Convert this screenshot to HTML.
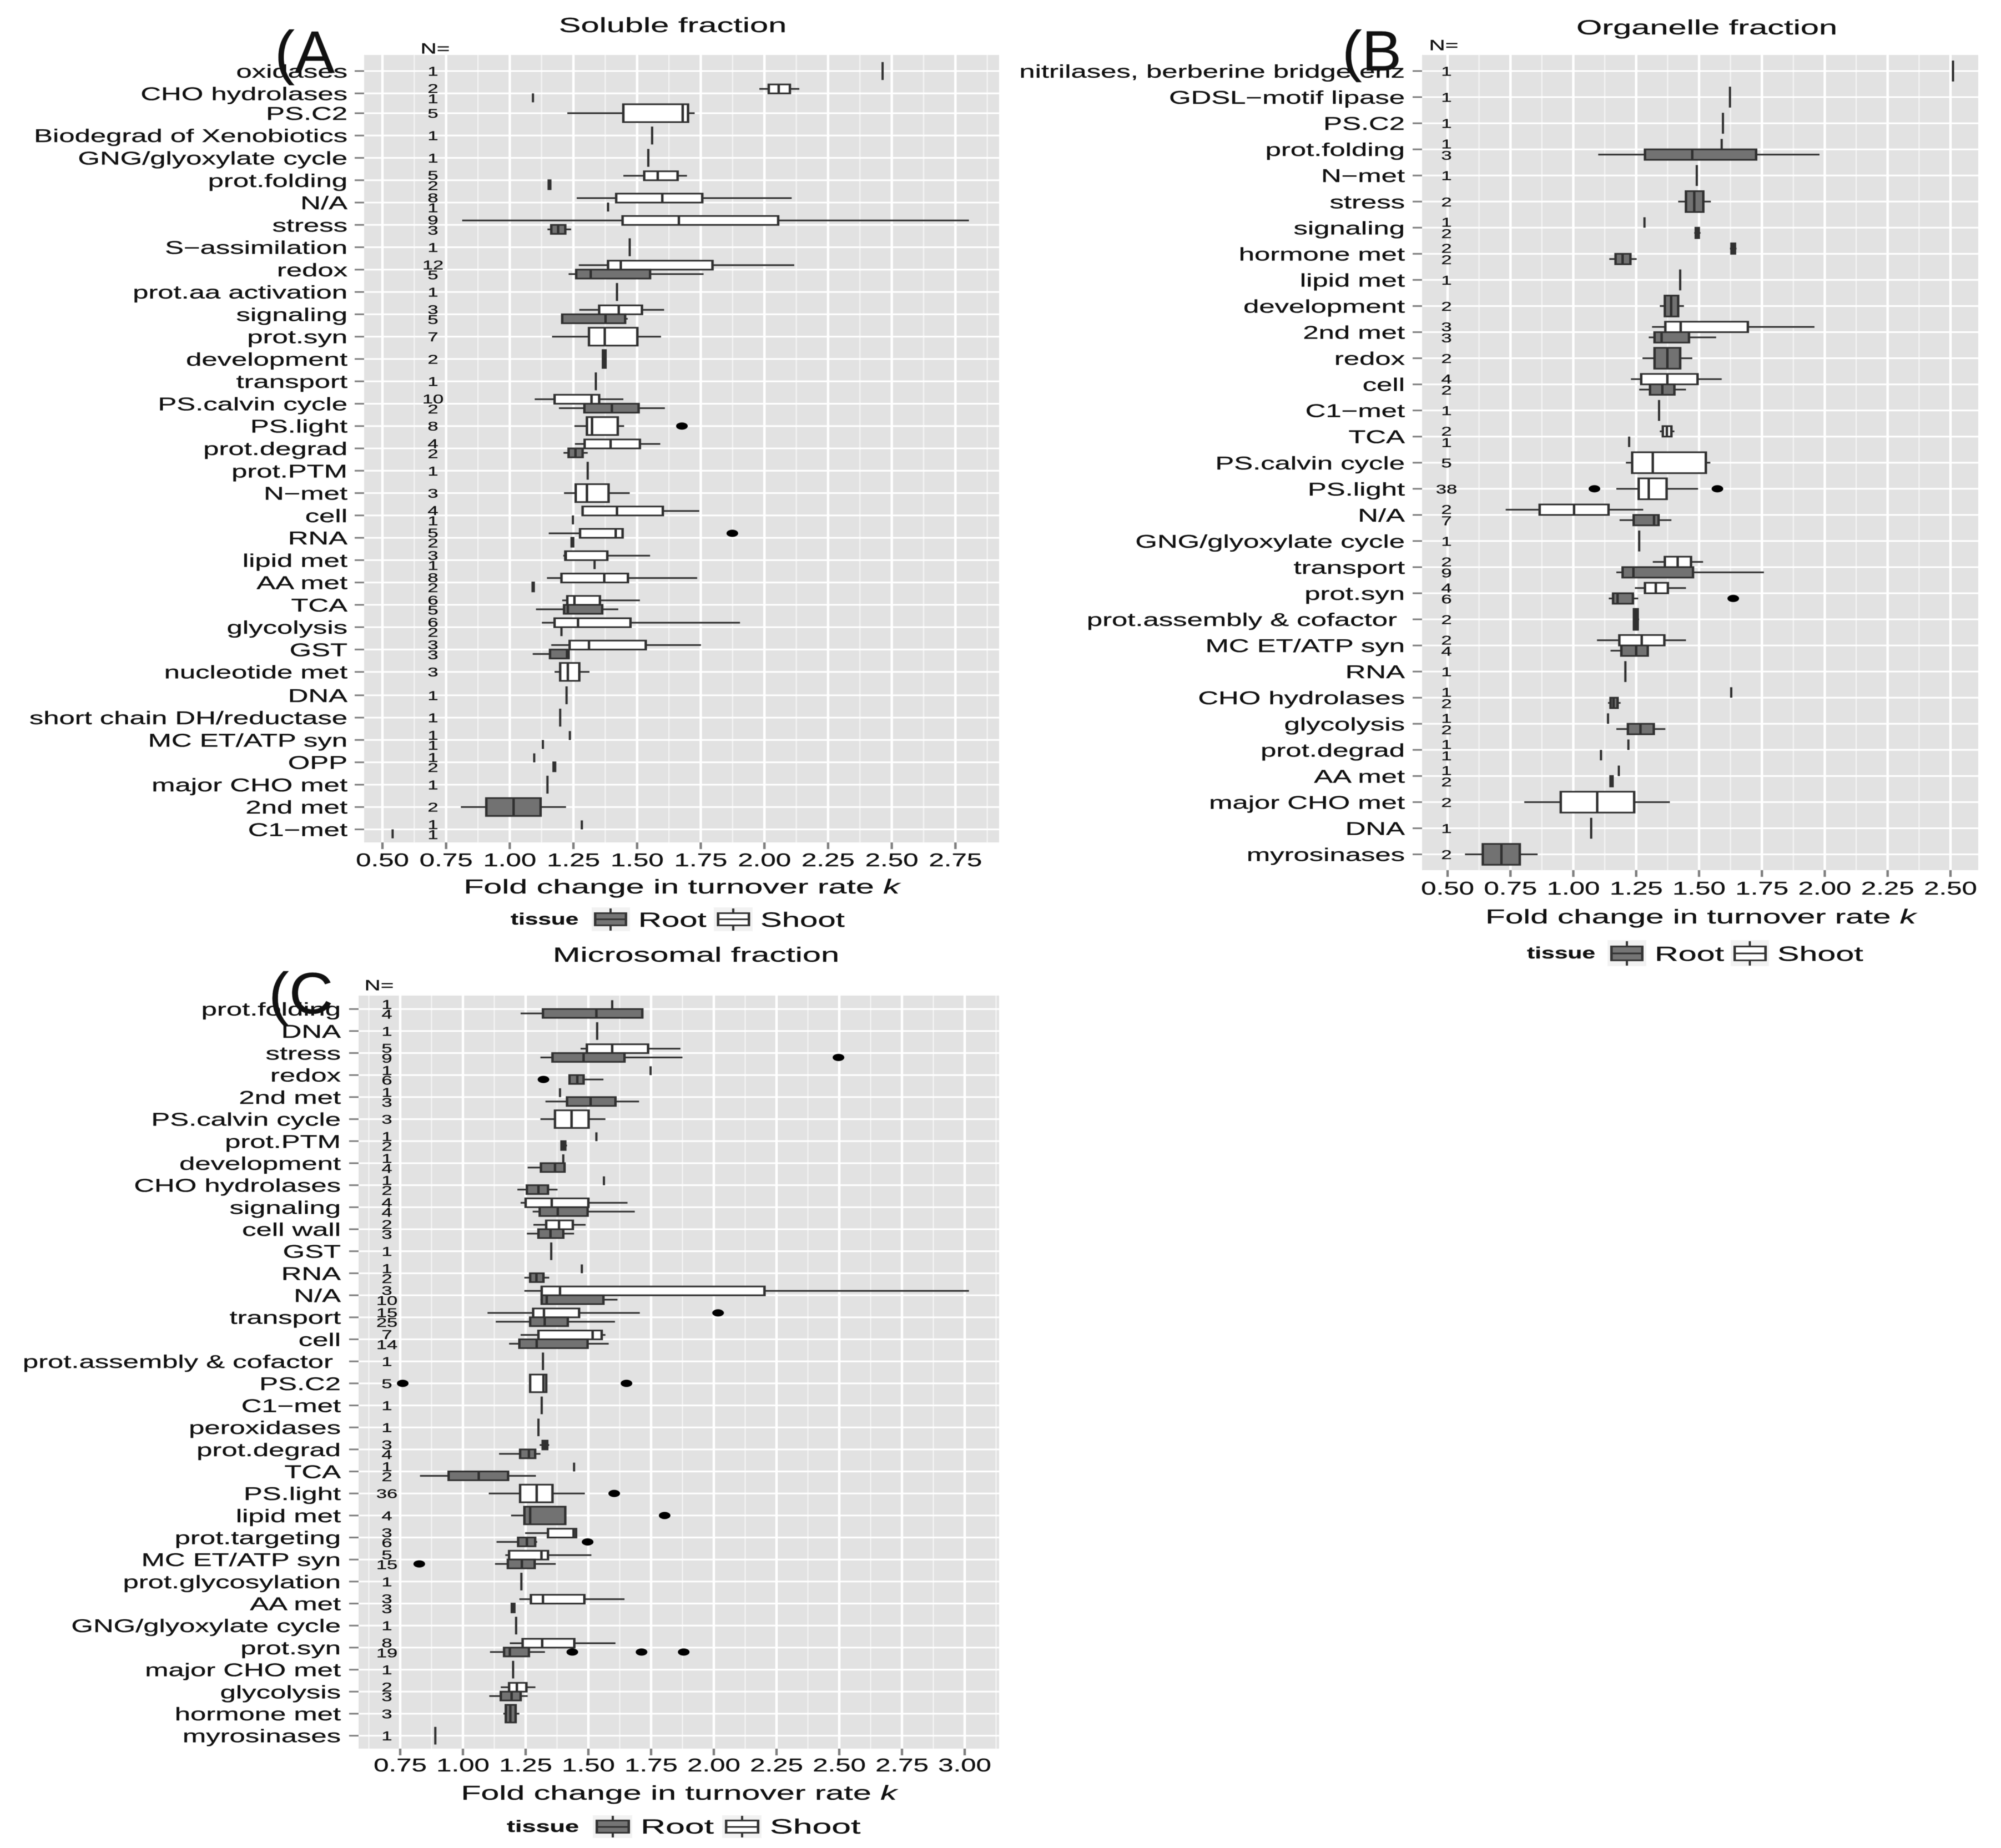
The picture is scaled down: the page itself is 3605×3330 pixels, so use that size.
<!DOCTYPE html>
<html lang="en">
<head>
<meta charset="utf-8">
<title>Fold change in turnover rate by functional category</title>
<style>
html,body{margin:0;padding:0;background:#fff}
svg{display:block;filter:blur(0.7px)}
text{font-family:"Liberation Sans",sans-serif;fill:#111;stroke:#111;stroke-width:.3}
</style>
</head>
<body>
<svg id="figure" xmlns="http://www.w3.org/2000/svg" width="3605" height="3330" viewBox="0 0 3605 3330">
<rect width="3605" height="3330" fill="#fff"/>
<g id="panelA"></g>
<g id="panelB"></g>
<g id="panelC"></g>

<text font-size="37" text-anchor="middle" transform="translate(1212,58) scale(1.61,1)">Soluble fraction</text>
<text font-size="37" text-anchor="middle" transform="translate(3075,62) scale(1.61,1)">Organelle fraction</text>
<text font-size="37" text-anchor="middle" transform="translate(1254,1733) scale(1.61,1)">Microsomal fraction</text>

<text font-size="36.5" text-anchor="middle" transform="translate(1228,1610) scale(1.62,1)">Fold change in turnover rate <tspan font-style="italic">k</tspan></text>
<text font-size="36.5" text-anchor="middle" transform="translate(3064,1664) scale(1.6,1)">Fold change in turnover rate <tspan font-style="italic">k</tspan></text>
<text font-size="36.5" text-anchor="middle" transform="translate(1223,3243) scale(1.62,1)">Fold change in turnover rate <tspan font-style="italic">k</tspan></text>

<text font-size="27" text-anchor="middle" transform="translate(784,96.5) scale(1.5,1)">N=</text>
<text font-size="27" text-anchor="middle" transform="translate(2601,90.5) scale(1.5,1)">N=</text>
<text font-size="27" text-anchor="middle" transform="translate(683,1784.5) scale(1.5,1)">N=</text>

<text font-size="108" fill="#000" transform="translate(495,131)">(A</text>
<text font-size="102" fill="#000" transform="translate(2418,127) scale(1.05,1)">(B</text>
<text font-size="105" fill="#000" transform="translate(484,1826) scale(1.05,1)">(C</text>

<g>
  <text font-size="30" font-weight="bold" transform="translate(920,1666) scale(1.41,1)">tissue</text>
  <g>
    <rect x="1066" y="1635" width="69" height="43" fill="#f2f2f2"/><rect x="1098" y="1637" width="4" height="40" fill="#333"/><rect x="1070" y="1644" width="60" height="25" fill="#333"/><rect x="1074.5" y="1647" width="51" height="19" fill="#757575"/><rect x="1074" y="1655" width="52" height="3" fill="#333"/>
    <text font-size="37" transform="translate(1150,1670) scale(1.57,1)">Root</text>
  </g>
  <g>
    <rect x="1286" y="1635" width="70" height="43" fill="#f2f2f2"/><rect x="1319" y="1637" width="4" height="40" fill="#333"/><rect x="1291.5" y="1644" width="60" height="25" fill="#333"/><rect x="1296" y="1647" width="51" height="19" fill="#fff"/><rect x="1295" y="1655" width="52" height="3" fill="#333"/>
    <text font-size="37" transform="translate(1370,1670) scale(1.57,1)">Shoot</text>
  </g>
</g>
<g>
  <text font-size="30" font-weight="bold" transform="translate(2751,1727) scale(1.42,1)">tissue</text>
  <g>
    <rect x="2896" y="1694" width="70" height="47" fill="#f2f2f2"/><rect x="2929" y="1696" width="4" height="44" fill="#333"/><rect x="2901" y="1704" width="60" height="28" fill="#333"/><rect x="2905.5" y="1707" width="51" height="22" fill="#757575"/><rect x="2905" y="1716.5" width="52" height="3" fill="#333"/>
    <text font-size="37" transform="translate(2981,1731.5) scale(1.6,1)">Root</text>
  </g>
  <g>
    <rect x="3118" y="1694" width="69" height="47" fill="#f2f2f2"/><rect x="3150.5" y="1696" width="4" height="44" fill="#333"/><rect x="3123" y="1704" width="60" height="28" fill="#333"/><rect x="3127.5" y="1707" width="51" height="22" fill="#fff"/><rect x="3127" y="1716.5" width="52" height="3" fill="#333"/>
    <text font-size="37" transform="translate(3202,1731.5) scale(1.6,1)">Shoot</text>
  </g>
</g>
<g>
  <text font-size="30" font-weight="bold" transform="translate(913,3301) scale(1.5,1)">tissue</text>
  <g>
    <rect x="1068" y="3271" width="71" height="41" fill="#f2f2f2"/><rect x="1102" y="3272" width="4" height="39" fill="#333"/><rect x="1073" y="3279" width="62" height="25" fill="#333"/><rect x="1077.5" y="3282" width="53" height="19" fill="#757575"/><rect x="1077" y="3290.5" width="54" height="3" fill="#333"/>
    <text font-size="37" transform="translate(1154,3304) scale(1.69,1)">Root</text>
  </g>
  <g>
    <rect x="1301" y="3271" width="71" height="41" fill="#f2f2f2"/><rect x="1335" y="3272" width="4" height="39" fill="#333"/><rect x="1306" y="3279" width="62" height="25" fill="#333"/><rect x="1310.5" y="3282" width="53" height="19" fill="#fff"/><rect x="1310" y="3290.5" width="54" height="3" fill="#333"/>
    <text font-size="37" transform="translate(1387,3304) scale(1.69,1)">Shoot</text>
  </g>
</g>
</svg>

<script>
// ---------- Panel A: soluble fraction ----------
const categoriesA = ['oxidases','CHO hydrolases','PS.C2','Biodegrad of Xenobiotics','GNG/glyoxylate cycle','prot.folding','N/A','stress','S\u2212assimilation','redox','prot.aa activation','signaling','prot.syn','development','transport','PS.calvin cycle','PS.light','prot.degrad','prot.PTM','N\u2212met','cell','RNA','lipid met','AA met','TCA','glycolysis','GST','nucleotide met','DNA','short chain DH/reductase','MC ET/ATP syn','OPP','major CHO met','2nd met','C1\u2212met'];
const ticksA = ['0.50','0.75','1.00','1.25','1.50','1.75','2.00','2.25','2.50','2.75'];
const shootA = [
 [2.464],
 [1.98,2.017,2.056,2.10,2.137],
 [1.226,1.446,1.679,1.70,1.726],
 [1.559],
 [1.544],
 [1.446,1.528,1.581,1.659,1.696],
 [1.263,1.418,1.599,1.756,2.107],
 [0.813,1.443,1.664,2.054,2.803],
 [1.471],
 [1.271,1.386,1.436,1.796,2.117],
 [1.421],
 [1.273,1.351,1.428,1.519,1.606],
 [1.166,1.311,1.373,1.501,1.594],
 [1.366,1.366,1.371,1.376,1.376],
 [1.338],
 [1.098,1.176,1.321,1.351,1.446],
 [1.254,1.303,1.323,1.424,1.449],
 [1.256,1.294,1.396,1.511,1.591],
 [1.306],
 [1.213,1.259,1.303,1.388,1.471],
 [1.286,1.286,1.421,1.601,1.744],
 [1.153,1.276,1.416,1.443,1.443],
 [1.21,1.218,1.22,1.383,1.551],
 [1.146,1.203,1.371,1.464,1.736],
 [1.206,1.226,1.254,1.354,1.511],
 [1.126,1.176,1.268,1.474,1.904],
 [1.163,1.235,1.311,1.534,1.751],
 [1.176,1.198,1.228,1.273,1.313],
 [1.223],
 [1.198],
 [1.236],
 [1.096],
 [1.148],
 null,
 [1.283]
];
const rootA = [
 null,[1.091],null,null,null,
 [1.153,1.153,1.156,1.159,1.159],
 [1.386],
 [1.148,1.163,1.19,1.218,1.241],
 null,
 [1.231,1.261,1.318,1.551,1.761],
 null,
 [1.206,1.206,1.376,1.453,1.463],
 null,null,null,
 [1.193,1.293,1.401,1.506,1.609],
 null,
 [1.211,1.231,1.258,1.286,1.306],
 null,null,
 [1.248],
 [1.241,1.243,1.246,1.249,1.251],
 [1.333],
 [1.088,1.09,1.092,1.094,1.095],
 [1.103,1.213,1.228,1.363,1.426],
 [1.203],
 [1.09,1.158,1.225,1.231,1.231],
 null,null,null,
 [1.13],
 [1.17,1.172,1.175,1.178,1.18],
 null,
 [0.808,0.908,1.015,1.121,1.221],
 [0.54]
];
const shootNA = [1,2,5,1,1,5,8,9,1,12,1,3,7,2,1,10,8,4,1,3,4,5,3,8,6,6,3,3,1,1,1,1,1,0,1];
const rootNA  = [0,1,0,0,0,2,1,3,0,5,0,5,0,0,0,2,0,2,0,0,1,2,1,2,5,2,3,0,0,0,1,2,0,2,1];
const outliersA = [['PS.light','shoot',1.676],['RNA','shoot',1.874]];

// ---------- Panel B: organelle fraction ----------
const categoriesB = ['nitrilases, berberine bridge enz','GDSL\u2212motif lipase','PS.C2','prot.folding','N\u2212met','stress','signaling','hormone met','lipid met','development','2nd met','redox','cell','C1\u2212met','TCA','PS.calvin cycle','PS.light','N/A','GNG/glyoxylate cycle','transport','prot.syn','prot.assembly & cofactor\u00A0','MC ET/ATP syn','RNA','CHO hydrolases','glycolysis','prot.degrad','AA met','major CHO met','DNA','myrosinases'];
const ticksB = ['0.50','0.75','1.00','1.25','1.50','1.75','2.00','2.25','2.50'];
const shootB = [
 [2.51],
 [1.623],
 [1.595],
 [1.59],
 [1.491],
 null,
 [1.283],
 [1.623,1.629,1.636,1.643,1.649],
 [1.425],
 null,
 [1.313,1.366,1.427,1.694,1.959],
 null,
 [1.229,1.27,1.374,1.494,1.59],
 [1.341],
 [1.344,1.356,1.372,1.39,1.402],
 [1.209,1.234,1.316,1.527,1.545],
 [1.171,1.26,1.3,1.371,1.496],
 [0.731,0.866,1.003,1.14,1.278],
 [1.262],
 [1.316,1.364,1.415,1.468,1.516],
 [1.245,1.285,1.328,1.376,1.448],
 null,
 [1.094,1.183,1.272,1.362,1.448],
 [1.207],
 [1.628],
 [1.138],
 [1.219],
 [1.181],
 [0.805,0.95,1.095,1.242,1.384],
 [1.071],
 null
];
const rootB = [
 null,null,null,
 [1.099,1.285,1.473,1.727,1.979],
 null,
 [1.417,1.448,1.481,1.517,1.547],
 [1.481,1.487,1.493,1.499,1.506],
 [1.143,1.168,1.196,1.227,1.252],
 null,
 [1.344,1.364,1.389,1.417,1.44],
 [1.3,1.323,1.351,1.46,1.568],
 [1.275,1.323,1.374,1.425,1.473],
 [1.262,1.305,1.354,1.402,1.448],
 null,
 [1.222],
 null,null,
 [1.184,1.24,1.321,1.339,1.39],
 null,
 [1.171,1.196,1.239,1.476,1.758],
 [1.141,1.158,1.176,1.237,1.258],
 [1.237,1.241,1.249,1.256,1.262],
 [1.148,1.191,1.25,1.296,1.296],
 null,
 [1.138,1.148,1.16,1.176,1.188],
 [1.171,1.217,1.267,1.32,1.366],
 [1.11],
 [1.145,1.148,1.153,1.156,1.158],
 null,null,
 [0.569,0.64,0.714,0.787,0.858]
];
const shootNB = [1,1,1,1,1,0,1,2,1,0,3,0,4,1,2,5,38,2,1,2,4,0,2,1,1,1,1,1,2,1,0];
const rootNB  = [0,0,0,3,0,2,2,2,0,2,3,2,2,0,1,0,0,7,0,9,6,2,4,0,2,2,1,2,0,0,2];
const outliersB = [['PS.light','shoot',1.084],['PS.light','shoot',1.573],['prot.syn','root',1.636]];

// ---------- Panel C: microsomal fraction ----------
const categoriesC = ['prot.folding','DNA','stress','redox','2nd met','PS.calvin cycle','prot.PTM','development','CHO hydrolases','signaling','cell wall','GST','RNA','N/A','transport','cell','prot.assembly & cofactor\u00A0','PS.C2','C1\u2212met','peroxidases','prot.degrad','TCA','PS.light','lipid met','prot.targeting','MC ET/ATP syn','prot.glycosylation','AA met','GNG/glyoxylate cycle','prot.syn','major CHO met','glycolysis','hormone met','myrosinases'];
const ticksC = ['0.75','1.00','1.25','1.50','1.75','2.00','2.25','2.50','2.75','3.00'];
const shootC = [
 [1.595],
 [1.535],
 [1.469,1.494,1.595,1.738,1.867],
 [1.748],
 [1.387],
 [1.309,1.367,1.433,1.501,1.568],
 [1.532],
 [1.4],
 [1.562],
 [1.23,1.25,1.354,1.5,1.656],
 [1.281,1.332,1.383,1.438,1.489],
 [1.352],
 [1.474],
 [1.245,1.314,1.387,2.202,3.017],
 [1.098,1.28,1.323,1.463,1.705],
 [1.23,1.301,1.517,1.553,1.568],
 [1.319],
 [1.268,1.268,1.321,1.332,1.332],
 [1.314],
 [1.301],
 [1.306,1.318,1.327,1.336,1.344],
 [1.443],
 [1.103,1.228,1.294,1.357,1.486],
 null,
 [1.248,1.339,1.441,1.451,1.453],
 [1.169,1.184,1.313,1.339,1.512],
 [1.233],
 [1.225,1.271,1.319,1.484,1.644],
 [1.212],
 [1.187,1.238,1.316,1.444,1.608],
 [1.2],
 [1.151,1.184,1.215,1.253,1.289],
 null,
 [0.89]
];
const rootC = [
 [1.23,1.319,1.532,1.715,1.715],
 null,
 [1.309,1.357,1.481,1.644,1.875],
 [1.423,1.425,1.456,1.481,1.56],
 [1.329,1.415,1.509,1.608,1.702],
 null,
 [1.39,1.393,1.4,1.408,1.415],
 [1.258,1.311,1.367,1.405,1.405],
 [1.217,1.255,1.301,1.339,1.377],
 [1.278,1.306,1.378,1.497,1.685],
 [1.255,1.301,1.349,1.4,1.443],
 null,
 [1.245,1.268,1.293,1.321,1.344],
 [1.309,1.314,1.334,1.56,1.616],
 [1.131,1.268,1.326,1.418,1.606],
 [1.184,1.225,1.294,1.497,1.581],
 null,null,null,null,
 [1.144,1.228,1.263,1.288,1.309],
 [0.829,0.943,1.063,1.18,1.291],
 null,
 [1.192,1.245,1.268,1.408,1.408],
 [1.134,1.22,1.255,1.288,1.296],
 [1.128,1.179,1.235,1.286,1.37],
 null,
 [1.192,1.195,1.2,1.205,1.207],
 null,
 [1.108,1.164,1.187,1.263,1.327],
 null,
 [1.105,1.151,1.194,1.23,1.258],
 [1.161,1.171,1.189,1.21,1.225],
 null
];
const shootNC = [1,1,5,1,1,3,1,1,1,4,2,1,1,3,15,7,1,5,1,1,3,1,36,0,3,5,1,3,1,8,1,2,0,1];
const rootNC  = [4,0,9,6,3,0,2,4,2,4,3,0,2,10,25,14,0,0,0,0,4,2,0,4,6,15,0,3,0,19,0,3,3,0];
const outliersC = [['stress','root',2.497],['redox','root',1.321],['transport','shoot',2.017],['PS.C2','shoot',0.76],['PS.C2','shoot',1.652],['PS.light','shoot',1.603],['lipid met','root',1.804],['prot.targeting','root',1.497],['MC ET/ATP syn','root',0.826],['prot.syn','root',1.436],['prot.syn','root',1.712],['prot.syn','root',1.88]];

// ---------- Rendering ----------
const SVGNS = 'http://www.w3.org/2000/svg';
function mk(parent, tag, attrs) {
  const el = document.createElementNS(SVGNS, tag);
  for (const k in attrs) el.setAttribute(k, attrs[k]);
  parent.appendChild(el);
  return el;
}
function label(parent, str, x, y, size, sx, anchor) {
  const t = mk(parent, 'text', {'font-size': size, 'text-anchor': anchor, transform: 'translate(' + x + ',' + y + ') scale(' + sx + ',1)'});
  t.textContent = str;
  return t;
}
const slug = s => s.toLowerCase().replace(/[^a-z0-9]+/g, '-').replace(/^-|-$/g, '');
const INK = '#303030';
const ROOT_FILL = '#727272';
const SHOOT_FILL = '#ffffff';
const VW = 4.4;   // vertical stroke width (image was stretched horizontally)
const HW = 3;     // horizontal stroke width

function drawSeries(g, stats, xs, yc, h, fill, name) {
  if (stats.length === 1) {
    const tick = mk(g, 'rect', {x: xs(stats[0]) - 2, y: yc - h / 2, width: 4, height: h, fill: INK});
    
    
    return;
  }
  const whisker = mk(g, 'rect', {x: xs(stats[0]), y: yc - HW / 2, width: xs(stats[4]) - xs(stats[0]), height: HW, fill: INK});
  
  
  const x1 = xs(stats[1]), x3 = xs(stats[3]);
  const outer = mk(g, 'rect', {x: x1 - VW / 2, y: yc - h / 2 - HW / 2, width: x3 - x1 + VW, height: h + HW, fill: INK});
  
  
  if (x3 - x1 - VW > 0) {
    const inner = mk(g, 'rect', {x: x1 + VW / 2, y: yc - h / 2 + HW / 2, width: x3 - x1 - VW, height: h - HW, fill: fill});
    
    
  }
  const median = mk(g, 'rect', {x: xs(stats[2]) - VW / 2, y: yc - h / 2, width: VW, height: h, fill: INK});
  
  
}

function drawPanel(cfg, categories, ticks, shoot, root, shootN, rootN, outliers) {
  const g = document.getElementById(cfg.id);
  const xs = v => cfg.x0 + (v - cfg.v0) * cfg.pxPerUnit;
  const ys = i => cfg.yFirst + i * cfg.step + (cfg.rowShifts || []).reduce((sum, s) => sum + (i >= s[0] ? s[1] : 0), 0);

  const bg = mk(g, 'rect', {x: cfg.left, y: cfg.top, width: cfg.right - cfg.left, height: cfg.bottom - cfg.top, fill: '#e2e2e2'});
  
  

  const tickVals = ticks.map(parseFloat);
  const gap = tickVals[1] - tickVals[0];
  for (let k = -1; k < tickVals.length; k++) {
    const v = tickVals[0] + (k + 0.5) * gap;
    if (xs(v) <= cfg.left || xs(v) >= cfg.right) continue;
    const minor = mk(g, 'line', {x1: xs(v), x2: xs(v), y1: cfg.top, y2: cfg.bottom, stroke: '#f3f3f3', 'stroke-width': 2.4});
    
    
  }
  ticks.forEach((lab, k) => {
    const x = xs(tickVals[k]);
    const grid = mk(g, 'line', {x1: x, x2: x, y1: cfg.top, y2: cfg.bottom, stroke: '#fff', 'stroke-width': 4.4});
    
    
    const tick = mk(g, 'line', {x1: x, x2: x, y1: cfg.bottom, y2: cfg.bottom + 12, stroke: '#7f7f7f', 'stroke-width': 4.4});
    
    
    const tl = label(g, lab, x, cfg.tickBase, 33.5, 1.47, 'middle');
    
    
  });

  categories.forEach((cat, i) => {
    const y = ys(i);
    const grid = mk(g, 'line', {x1: cfg.left, x2: cfg.right, y1: y, y2: y, stroke: '#fff', 'stroke-width': 3});
    
    
    const tick = mk(g, 'line', {x1: cfg.left - 17, x2: cfg.left, y1: y, y2: y, stroke: '#7f7f7f', 'stroke-width': 3});
    
    
    const tl = label(g, cat, cfg.labelRight, y + 12, 33, 1.54, 'end');
    
    
  });

  const full = cfg.step * 0.8, half = cfg.step * 0.4, off = cfg.step * 0.2;
  categories.forEach((cat, i) => {
    const both = shoot[i] && root[i];
    const row = mk(g, 'g', {});
    
    
    const nOff = cfg.step * cfg.nOffset;
    if (shoot[i]) {
      drawSeries(row, shoot[i], xs, both ? ys(i) - off : ys(i), both ? half : full, SHOOT_FILL, 'shoot-' + slug(cat));
      const nl = label(row, String(shootN[i]), cfg.nX, (both ? ys(i) - nOff : ys(i)) + 8.5, 23, 1.5, 'middle');
      
      
    }
    if (root[i]) {
      drawSeries(row, root[i], xs, both ? ys(i) + off : ys(i), both ? half : full, ROOT_FILL, 'root-' + slug(cat));
      const nl = label(row, String(rootN[i]), cfg.nX, (both ? ys(i) + nOff : ys(i)) + 8.5, 23, 1.5, 'middle');
      
      
    }
  });

  outliers.forEach(o => {
    const i = categories.indexOf(o[0]);
    const both = shoot[i] && root[i];
    const y = both ? ys(i) + (o[1] === 'shoot' ? -off : off) : ys(i);
    const dot = mk(g, 'ellipse', {cx: xs(o[2]), cy: y, rx: 10.5, ry: 6.5, fill: '#000'});
    
    
  });
}

drawPanel({id: 'panelA', left: 656, right: 1800, top: 99, bottom: 1518, x0: 689, v0: 0.5, pxPerUnit: 458.8, yFirst: 128, step: 40.27, rowShifts: [[2, -4.6], [28, 1.9]], labelRight: 626, nX: 780, nOffset: 0.225, tickBase: 1561}, categoriesA, ticksA, shootA, rootA, shootNA, rootNA, outliersA);
drawPanel({id: 'panelB', left: 2562, right: 3564, top: 99, bottom: 1568, x0: 2608, v0: 0.5, pxPerUnit: 453, yFirst: 128, step: 47.05, labelRight: 2531, nX: 2606, nOffset: 0.215, tickBase: 1612}, categoriesB, ticksB, shootB, rootB, shootNB, rootNB, outliersB);
drawPanel({id: 'panelC', left: 646, right: 1800, top: 1794, bottom: 3151, x0: 721, v0: 0.75, pxPerUnit: 452, yFirst: 1818.2, step: 39.68, labelRight: 614, nX: 697, nOffset: 0.225, tickBase: 3192}, categoriesC, ticksC, shootC, rootC, shootNC, rootNC, outliersC);
</script>
</body>
</html>
